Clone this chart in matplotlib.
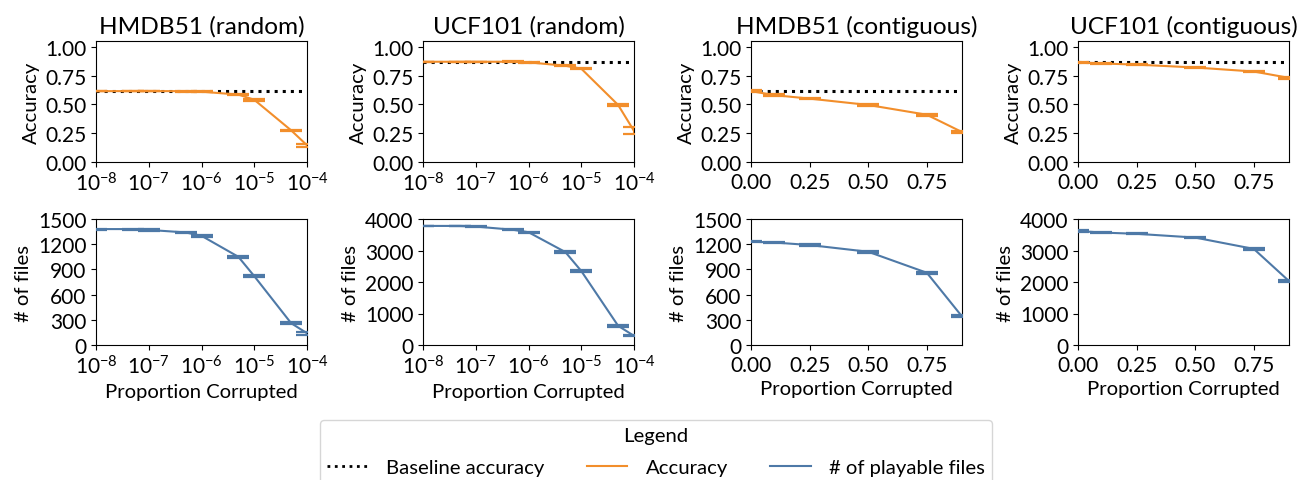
import matplotlib
matplotlib.use("Agg")
import matplotlib.pyplot as plt
from matplotlib.lines import Line2D

plt.rcParams['font.family'] = ['Lato', 'DejaVu Sans']

ORANGE = '#f28e2b'
BLUE = '#4e79a7'

# x values
x_random = [1e-8, 5e-8, 1e-7, 5e-7, 1e-6, 5e-6, 1e-5, 5e-5, 1e-4]
x_contig = [0.0, 0.1, 0.25, 0.5, 0.75, 0.9]

# HMDB51 random
hmdb_rand_acc = [0.615, 0.615, 0.615, 0.615, 0.61, 0.585, 0.54, 0.275, 0.145]
hmdb_rand_acc_err = [0.002, 0.002, 0.002, 0.004, 0.004, 0.006, 0.008, 0.006, 0.015]
hmdb_rand_files = [1380, 1380, 1370, 1340, 1300, 1050, 820, 260, 140]
hmdb_rand_files_err = [5, 5, 8, 10, 10, 12, 12, 10, 15]

# UCF101 random
ucf_rand_acc = [0.87, 0.87, 0.87, 0.87, 0.865, 0.835, 0.81, 0.495, 0.27]
ucf_rand_acc_err = [0.002, 0.002, 0.002, 0.003, 0.003, 0.005, 0.005, 0.008, 0.03]
ucf_rand_files = [3780, 3780, 3760, 3660, 3580, 2950, 2350, 610, 290]
ucf_rand_files_err = [10, 10, 15, 20, 20, 30, 25, 25, 20]

# HMDB51 contiguous
hmdb_cont_acc = [0.615, 0.58, 0.55, 0.495, 0.41, 0.26]
hmdb_cont_acc_err = [0.008, 0.01, 0.005, 0.008, 0.01, 0.01]
hmdb_cont_files = [1230, 1220, 1190, 1110, 860, 340]
hmdb_cont_files_err = [8, 8, 15, 10, 10, 12]

# UCF101 contiguous
ucf_cont_acc = [0.865, 0.855, 0.845, 0.82, 0.785, 0.73]
ucf_cont_acc_err = [0.005, 0.005, 0.005, 0.005, 0.005, 0.008]
ucf_cont_files = [3620, 3570, 3530, 3410, 3050, 2030]
ucf_cont_files_err = [20, 15, 15, 20, 20, 20]

baselines = [0.615, 0.87, 0.615, 0.87]
titles = ['HMDB51 (random)', 'UCF101 (random)', 'HMDB51 (contiguous)', 'UCF101 (contiguous)']

panels = [
    (x_random, hmdb_rand_acc, hmdb_rand_acc_err, hmdb_rand_files, hmdb_rand_files_err, True),
    (x_random, ucf_rand_acc, ucf_rand_acc_err, ucf_rand_files, ucf_rand_files_err, True),
    (x_contig, hmdb_cont_acc, hmdb_cont_acc_err, hmdb_cont_files, hmdb_cont_files_err, False),
    (x_contig, ucf_cont_acc, ucf_cont_acc_err, ucf_cont_files, ucf_cont_files_err, False),
]

W, H = 1309, 481
fig = plt.figure(figsize=(W / 100, H / 100), dpi=100)

lefts = [96, 423, 751, 1078]
aw = 211
top_row = (42, 163)
bot_row = (220, 346)

file_ticks = [[0, 300, 600, 900, 1200, 1500], [0, 1000, 2000, 3000, 4000],
              [0, 300, 600, 900, 1200, 1500], [0, 1000, 2000, 3000, 4000]]

TICK_FS = 15
LAB_FS = 14.6
for i, (x, acc, acc_err, files, files_err, logx) in enumerate(panels):
    l = lefts[i] / W
    ax1 = fig.add_axes([l, 1 - top_row[1] / H, aw / W, (top_row[1] - top_row[0]) / H])
    ax2 = fig.add_axes([l, 1 - bot_row[1] / H, aw / W, (bot_row[1] - bot_row[0]) / H])

    ax1.axhline(baselines[i], color='black', linestyle=':', linewidth=2.2, zorder=1)
    ax1.errorbar(x, acc, yerr=acc_err, color=ORANGE, linewidth=1.5, elinewidth=1.5,
                 capsize=8, capthick=1.6, zorder=3)
    ax2.errorbar(x, files, yerr=files_err, color=BLUE, linewidth=1.5, elinewidth=1.5,
                 capsize=8, capthick=1.6, zorder=3)

    for ax in (ax1, ax2):
        if logx:
            ax.set_xscale('log')
            ax.set_xlim(1e-8, 1e-4)
            ax.set_xticks([1e-8, 1e-7, 1e-6, 1e-5, 1e-4])
            ax.minorticks_off()
        else:
            ax.set_xlim(0, 0.9)
            ax.set_xticks([0, 0.25, 0.5, 0.75])
            ax.set_xticklabels(['0.00', '0.25', '0.50', '0.75'])
        ax.tick_params(labelsize=TICK_FS)

    ax1.set_ylim(0, 1.05)
    ax1.set_yticks([0, 0.25, 0.5, 0.75, 1.0])
    ax1.set_yticklabels(['0.00', '0.25', '0.50', '0.75', '1.00'])
    ax1.set_ylabel('Accuracy', fontsize=LAB_FS)
    ax1.set_title(titles[i], fontsize=17.6)

    ft = file_ticks[i]
    ax2.set_ylim(0, ft[-1])
    ax2.set_yticks(ft)
    ax2.set_ylabel('# of files', fontsize=LAB_FS)
    ax2.set_xlabel('Proportion Corrupted', fontsize=LAB_FS)

handles = [
    Line2D([0], [0], color='black', linestyle=':', linewidth=2),
    Line2D([0], [0], color=ORANGE, linewidth=1.5),
    Line2D([0], [0], color=BLUE, linewidth=1.5),
]
labels = ['Baseline accuracy', 'Accuracy', '# of playable files']
fig.legend(handles, labels, title='Legend', ncol=3, loc='upper center',
           bbox_to_anchor=(656 / W, 1 - 421 / H), borderaxespad=0, borderpad=0.35,
           labelspacing=0.75, fontsize=LAB_FS, title_fontsize=LAB_FS,
           columnspacing=2.1, handlelength=2.0, handletextpad=0.9,
           frameon=True, edgecolor='#cccccc')

fig.savefig('out.png', dpi=100)
